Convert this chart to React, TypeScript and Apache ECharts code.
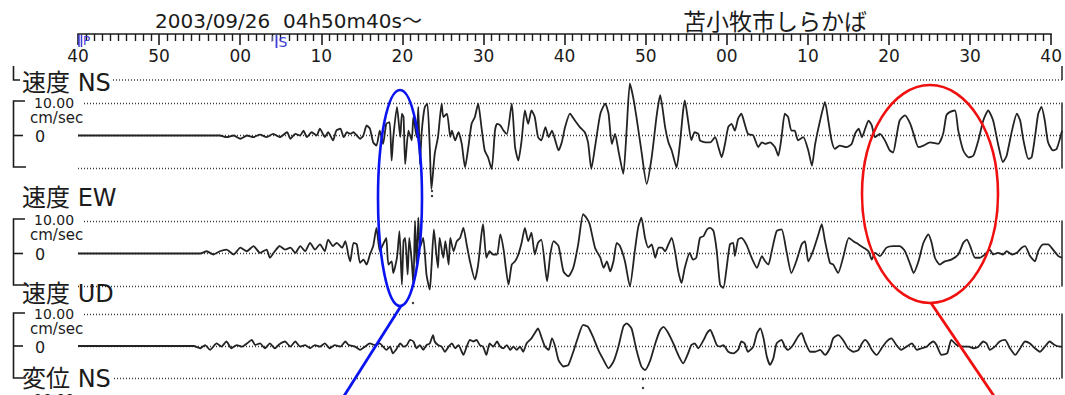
import { useEffect, useRef } from "react";
import * as echarts from "echarts";

// Time axis: seconds after 04h50m40s (0..120 s)
const tickLabels = ["40", "50", "00", "10", "20", "30", "40", "50", "00", "10", "20", "30", "40"];
const channelNames = ["速度 NS", "速度 EW", "速度 UD"];
const nextChannelName = "変位 NS";
const titleLeft = "2003/09/26  04h50m40s〜";
const titleRight = "苫小牧市しらかば";
const scaleLabel = "10.00";
const unitLabel = "cm/sec";

// [time s, velocity cm/s] read from the record
const velocityNS: [number, number][] = [
  [0, 0], [17.3, 0], [18.1, -0.5], [19.0, 0], [19.8, -1.0], [20.6, 0], [21.4, -0.5], [22.2, 0.3], [23.0, -0.5], [23.8, 0.5],
  [24.6, -0.5], [25.5, 1.0], [25.9, -1.0], [26.5, 0.5], [27.1, 0], [27.5, 1.5], [27.9, -0.5], [28.5, 1.0], [29.1, 0], [29.5, 2.1],
  [30.1, -0.5], [30.5, 1.0], [31.1, -1.5], [31.5, 1.5], [32.0, 2.1], [32.4, -0.5], [32.8, 1.0],
  [33.2, 0.5], [33.6, 1.0], [34.0, 0], [34.4, -1.0], [34.8, 0], [35.2, 3.1], [35.6, 2.1], [36.0, -2.1], [36.4, -3.1], [36.8, 1.5],
  [37.2, -2.6], [37.6, 3.6], [38.0, 4.1], [38.25, -7.7], [38.45, -0.5], [38.9, 8.8], [39.3, -0.5], [39.5, 6.7], [39.7, 5.7], [39.9, -8.8],
  [40.3, 1.5], [40.7, -1.5], [40.9, 5.7], [41.3, -0.5], [41.5, 8.8], [41.7, -8.8], [41.9, 0.5], [42.1, 5.7], [42.3, 8.8], [42.6, 9.8],
  [42.9, -3.6], [43.1, -16.5], [43.5, -5.7], [43.9, -0.5], [44.35, 9.8], [44.55, 5.7], [45.0, 6.7], [45.4, -0.5], [45.6, 1.5], [46.0, -1.5],
  [46.4, 1.0], [46.8, -2.6], [47.2, -9.8], [47.6, -3.6], [48.0, 3.6], [48.4, 5.7], [48.8, 9.8], [49.2, 2.6], [49.6, -4.6], [50.0, -6.7],
  [50.45, -10.3], [50.85, 1.5], [51.1, 3.6], [51.5, 3.1], [51.9, 1.5], [52.3, 0.5], [52.9, 9.8], [53.3, -3.6], [53.7, -7.7], [54.1, -1.5],
  [54.5, 7.7], [54.9, 3.6], [55.3, 7.7], [55.7, 5.7], [56.1, -0.5], [56.5, -1.5], [57.0, 2.6], [57.4, -0.5], [57.8, 1.5], [58.2, -1.5],
  [58.6, -4.6], [59.0, -2.1], [59.4, 2.6], [60.0, 6.7], [60.6, 4.6], [61.2, 2.6], [61.8, 1.0], [62.2, -2.1], [62.6, -10.3], [63.05, -3.6],
  [63.7, 6.7], [64.3, 9.8], [64.7, 6.7], [65.1, -2.6], [65.5, 0.5], [65.9, -4.6], [66.5, -11.8], [66.9, 1.5], [67.3, 16.0], [67.7, 11.8],
  [68.1, 5.7], [68.7, -4.6], [69.35, -14.9], [69.96, -6.7], [70.6, 6.7], [71.0, 12.4], [71.6, 2.6], [72.0, -2.1], [72.4, -4.6], [73.0, -9.8],
  [73.4, -2.6], [73.8, 7.7], [74.0, 10.8], [74.4, 4.6], [74.8, -1.5], [75.2, 1.0], [75.65, 0.5],
  [75.85, -1.5], [76.5, -2.1], [77.1, -2.1], [77.7, -0.5], [78.1, -3.6], [78.5, -6.7], [78.9, -2.6], [79.3, 2.6], [79.7, 3.6], [80.1, 1.5],
  [80.5, 5.2], [80.9, 6.7], [81.3, 3.6], [81.7, 0.5], [82.35, 0], [82.96, -3.6], [83.4, -2.1], [83.8, -2.6], [84.4, -2.1], [85.0, -3.6],
  [85.4, -6.2], [85.8, -0.5], [86.2, 6.7], [86.6, 5.7], [87.0, 1.5], [87.4, 1.5], [87.8, -1.5], [88.45, -0.5], [89.06, -4.6], [89.5, -9.3],
  [89.9, -2.6], [90.5, 4.6], [91.1, 10.3], [91.5, 4.6], [91.9, -1.5], [92.3, -4.1], [92.9, -3.1], [93.7, -3.6], [94.35, -2.6], [94.75, 0.5],
  [95.2, 2.1], [95.6, -0.5], [96.0, 2.1], [96.4, 4.6], [96.8, 3.1], [97.2, -0.5], [97.8, 0.5], [98.4, -1.5], [99.0, -4.6], [99.4, -5.2],
  [99.8, -0.5], [100.2, 4.6], [100.85, 6.2], [101.5, 3.6], [101.9, 0.5], [102.5, -3.6], [103.1, -3.1], [103.9, -2.1], [104.9, -2.6], [105.5, 0.5],
  [105.9, 6.2], [106.3, 7.2], [106.95, 7.7], [107.35, 1.5], [107.96, -4.6], [108.6, -6.7], [109.2, -6.2], [109.8, -1.5], [110.4, 4.6], [111.0, 7.7],
  [111.6, 4.6], [112.2, -2.6], [112.8, -8.2], [113.25, -6.2], [113.9, 1.5], [114.5, 6.7], [114.9, 4.6], [115.3, -1.5], [115.9, -7.2], [116.3, -6.7],
  [116.7, -0.5], [117.1, 6.7], [117.5, 8.8], [117.9, 4.6], [118.3, -2.1], [118.9, -4.6], [119.35, -4.1], [119.8, -0.5], [120, 1.5],
];

const velocityEW: [number, number][] = [
  [0, 0], [14.9, 0], [15.7, 0.7], [16.5, -0.3], [17.3, 0.7], [18.1, 1.2], [19.0, -0.3], [19.8, 1.8], [20.6, 0.7], [21.4, 2.3],
  [22.2, 0.2], [23.0, 1.2], [23.4, -1.3], [24.0, 0.7], [24.6, 2.3], [25.25, 1.2], [25.9, 1.8], [26.5, 0.2], [27.1, 2.3], [27.7, 0.7],
  [28.3, 3.3], [28.9, 1.2], [29.5, 2.8], [30.1, 0.7], [30.5, 4.3], [31.1, 2.3], [31.55, 3.3], [32.2, 1.8], [32.6, 3.8], [33.0, -0.8],
  [33.2, -2.4], [33.6, 3.3], [34.0, 2.8], [34.4, -2.9], [34.8, -1.9], [35.2, -3.4], [35.6, -0.3], [36.0, 2.3], [36.4, 7.9], [36.8, 0.7],
  [37.2, 2.8], [37.4, 3.8], [37.6, 4.8], [37.85, -3.4], [38.25, -2.4], [38.45, -6.0], [38.9, -1.3], [39.2, 6.9], [39.5, -9.6], [39.7, 3.8],
  [39.9, 4.8], [40.2, -6.5], [40.4, 4.8], [40.7, -2.4], [40.9, -9.6], [41.1, 10.0], [41.3, -4.4], [41.5, 11.0], [41.7, 1.8], [42.1, 4.8],
  [42.5, -6.5], [42.9, -11.1], [43.1, -4.4], [43.4, 7.4], [43.7, -0.3], [43.9, -4.4], [44.1, 4.8], [44.55, -1.3], [44.8, 3.8], [45.2, -3.4],
  [45.4, 4.8], [45.8, 0.7], [46.2, 3.8], [46.6, 4.8], [47.0, 7.9], [47.4, 2.8], [47.8, -2.4], [48.4, -8.0], [48.8, -3.4], [49.2, 5.9],
  [49.4, 9.0], [49.8, -1.3], [50.2, 0.7], [50.6, -0.3], [51.1, -0.3], [51.5, 5.9], [51.9, 1.2], [52.5, -9.6], [52.9, -3.4], [53.3, -2.4],
  [53.7, -0.3], [54.1, 3.3], [54.5, 7.9], [54.9, 3.8], [55.3, 6.4], [55.7, -0.3], [56.1, 3.3], [56.5, 4.3], [57.2, -8.5], [57.6, -0.3],
  [58.0, 3.8], [58.6, 2.3], [59.2, -5.5], [59.8, -7.0], [60.4, -4.4], [61.0, 2.8], [61.6, 12.1], [62.0, 11.0], [62.4, 9.0], [63.05, 1.8],
  [63.7, -1.3], [64.1, -4.4], [64.5, -2.4], [64.9, -5.5], [65.3, -2.4], [65.7, 3.3], [66.1, 2.3], [66.7, -2.4], [67.3, -10.1], [67.9, 0.7],
  [68.3, 7.9], [68.7, 11.0], [69.15, 4.8], [69.55, 1.8], [69.96, 2.8], [70.4, -1.3], [70.8, 1.8], [71.2, 1.8], [71.6, 0.7], [72.0, 2.8],
  [72.4, 4.8], [72.8, 0.7], [73.2, -5.5], [73.6, -9.1], [74.0, -4.4], [74.6, 0.2], [75.0, -1.9], [75.4, -1.3],
  [75.85, 4.8], [76.3, 5.4], [76.7, 7.4], [77.1, 7.9], [77.5, 6.9], [77.9, 0.7], [78.3, -9.6], [78.7, -10.6], [79.1, -4.4], [79.5, 2.8],
  [79.9, 3.3], [80.1, -0.8], [80.5, 4.3], [80.9, 4.8], [81.5, 2.8], [82.15, -1.3], [82.8, -4.4], [83.4, -0.8], [83.8, -2.4], [84.2, -3.4],
  [84.6, 0.7], [85.2, 6.9], [85.8, 7.4], [86.4, 0.7], [87.0, -6.0], [87.6, -2.4], [88.25, 2.8], [88.65, 3.8], [89.06, -2.4], [89.7, 1.2],
  [90.3, 5.9], [90.7, 9.0], [91.1, 3.8], [91.7, -2.9], [92.1, -3.4], [92.7, -6.0], [93.3, -1.3], [94.0, 4.8], [94.55, 3.8], [95.2, 2.8],
  [95.8, 1.8], [96.4, 0.7], [96.8, -1.9], [97.2, 0.2], [97.8, -0.8], [98.6, 1.8], [99.4, 2.3], [100.2, 2.3], [100.85, 0.7], [101.5, -3.4],
  [101.9, -6.0], [102.5, -2.4], [103.1, 3.3], [103.7, 5.9], [104.1, 3.3], [104.5, -1.3], [105.1, -3.4], [105.7, -2.4], [106.5, -1.9], [107.35, -0.3],
  [107.96, 3.3], [108.4, 4.3], [108.8, 2.3], [109.4, -1.3], [110.0, -1.3], [110.8, 0.2], [111.2, 1.2], [111.6, -0.3], [112.2, 0.2], [112.8, -0.3],
  [113.25, 0.7], [113.9, -0.3], [114.5, 0.2], [115.1, 1.8], [115.5, 2.3], [116.1, -0.8], [116.7, -2.4], [117.1, 0.7], [117.7, 2.8], [118.3, 2.8],
  [118.9, 1.2], [119.55, -0.8], [120, -1.3],
];

const velocityUD: [number, number][] = [
  [0, 0], [14.1, 0], [14.9, -0.7], [15.5, 0.3], [16.1, -1.2], [16.9, 0.8], [17.5, -0.2], [18.1, 1.4], [18.7, -0.7], [19.35, 0.3],
  [20.0, -0.2], [20.6, 0.8], [21.2, 1.9], [21.6, 0.3], [22.2, 0.8], [22.8, -0.7], [23.4, 0.8], [24.0, -0.7], [24.6, 0.6], [25.25, 1.4],
  [25.9, -0.2], [26.5, 1.4], [27.1, -0.2], [27.7, 0.3], [28.3, -0.7], [28.9, 0.3], [29.5, -0.2], [30.1, 0.8], [30.7, -0.7], [31.3, 0.3],
  [32.0, -0.2], [32.6, 1.4], [33.0, 0.3], [33.8, -0.2], [34.4, -1.2], [35.0, -0.2], [35.6, 0.8], [36.2, 0.3], [36.8, 0.8], [37.2, -0.2],
  [37.6, -1.2], [38.05, -0.2], [38.4, -2.3], [38.9, -0.7], [39.3, 0.8], [39.7, -0.2], [40.1, 0.3], [40.5, 1.9], [40.9, 1.4], [41.3, -0.7],
  [41.7, 0.3], [42.1, -1.2], [42.5, 0.3], [42.9, 0.8], [43.3, 3.4], [43.5, 1.4], [43.9, 0.3], [44.35, -0.2], [44.75, -1.8], [45.2, -0.2],
  [45.6, 0.8], [46.0, -0.7], [46.4, 0.3], [46.8, -1.8], [47.0, -2.8], [47.4, -0.2], [47.8, 1.9], [48.2, 1.4], [48.6, 1.9], [49.0, 0.3],
  [49.4, -0.2], [49.8, -2.8], [50.2, 0.8], [50.65, -0.2], [51.1, 1.4], [51.5, -0.2], [51.9, -0.7], [52.3, 0.3], [52.7, -1.2], [53.1, -0.2],
  [53.5, -1.2], [53.9, -0.2], [54.3, -1.8], [54.7, 0.8], [55.3, 2.4], [55.7, 4.0], [56.1, 5.5], [56.5, 2.9], [56.95, -0.2], [57.4, -1.2],
  [57.8, 2.4], [58.2, -0.2], [58.6, -4.4], [59.2, -6.4], [59.8, -5.9], [60.4, -1.8], [61.0, 2.9], [61.6, 6.6], [62.2, 6.0], [62.8, 2.9],
  [63.45, -1.2], [64.1, -4.4], [64.7, -7.0], [65.3, -4.9], [65.9, -0.2], [66.5, 6.0], [66.9, 7.1], [67.5, 5.5], [68.1, -1.2], [68.7, -6.4],
  [69.15, -7.5], [69.8, -4.4], [70.4, 0.8], [71.0, 5.0], [71.4, 6.0], [72.0, 4.0], [72.6, 0.8], [73.2, -2.8], [73.8, -5.4], [74.4, -2.3],
  [74.8, 0.3], [75.2, 0.8], [75.65, -0.7], [76.3, 1.9], [76.7, 4.0], [77.1, 5.0], [77.5, 2.9], [77.9, 0.3], [78.3, -0.2], [78.7, 0.3],
  [79.3, -1.8], [79.9, -2.3], [80.5, -1.2], [80.9, 1.4], [81.3, 0.8], [81.7, -1.8], [82.35, -0.2], [82.8, 4.0], [83.2, 5.5], [83.6, 2.4],
  [84.0, -3.3], [84.4, -5.9], [84.8, -3.8], [85.2, 0.8], [85.8, 1.9], [86.2, -0.2], [86.6, -1.2], [87.2, 0.3], [87.8, 2.9], [88.25, 4.0],
  [88.65, 1.4], [89.3, -1.8], [89.9, -1.8], [90.5, -1.2], [91.1, -2.8], [91.7, -0.7], [92.1, 2.4], [92.7, 3.4], [93.3, 1.9], [93.9, -0.7],
  [94.55, -1.8], [95.2, -1.2], [95.6, 0.8], [96.0, 1.9], [96.4, 0.8], [96.8, -1.2], [97.4, -2.8], [98.0, -0.7], [98.6, 1.4], [99.2, 2.4],
  [99.8, 0.3], [100.4, -1.2], [101.05, -0.2], [101.7, 0.8], [102.3, -1.2], [102.9, -0.7], [103.5, -0.2], [103.9, 0.8], [104.3, 1.4], [104.7, 0.3],
  [105.3, -2.8], [106.0, -2.3], [106.5, 1.9], [107.15, 0.3], [108.0, -0.2], [108.6, -0.2], [109.2, -0.7], [109.8, -0.2], [110.4, 1.4], [110.8, 0.8],
  [111.2, -1.2], [111.8, -0.2], [112.4, 1.4], [113.05, 1.9], [113.65, -0.7], [114.3, -2.8], [114.9, -0.7], [115.5, 1.4], [116.1, 0.8], [116.7, -0.7],
  [117.3, -1.8], [117.9, -0.2], [118.5, 1.4], [119.1, 0.3], [119.8, -0.2], [120, -0.2],
];

const INK = "#1b1b1b";
const LATIN = '"DejaVu Sans", "Noto Sans CJK JP", sans-serif';
const CJK = '"Noto Sans CJK JP", sans-serif';
const PLOT_LEFT = 78;
const PLOT_WIDTH = 984;
const PLOT_RIGHT = PLOT_LEFT + PLOT_WIDTH;

const panels = [
  { name: channelNames[0], data: velocityNS, top: 103, height: 65, labelY: 83, scaleY: 103, unitY: 118, bracketTop: 101, bracketBottom: 167 },
  { name: channelNames[1], data: velocityEW, top: 221, height: 65, labelY: 198, scaleY: 220, unitY: 235, bracketTop: 219, bracketBottom: 285 },
  { name: channelNames[2], data: velocityUD, top: 314, height: 64, labelY: 294, scaleY: 314, unitY: 329, bracketTop: 313, bracketBottom: 378 },
];

function text(x: number, y: number, str: string, font: string, extra: any = {}) {
  return {
    type: "text",
    x,
    y,
    z: 20,
    style: { text: str, font, fill: INK, align: "left", verticalAlign: "middle", ...extra },
  };
}

function buildOption() {
  const grid: any[] = [{ left: PLOT_LEFT, top: 33, width: PLOT_WIDTH, height: 1 }];
  const xAxis: any[] = [
    {
      gridIndex: 0,
      type: "value",
      min: 0,
      max: 120,
      interval: 10,
      position: "bottom",
      axisLine: { show: true, onZero: false, lineStyle: { color: INK, width: 1.7 } },
      axisTick: { show: true, length: 11, lineStyle: { color: INK, width: 1.6 } },
      minorTick: { show: true, splitNumber: 10, length: 7, lineStyle: { color: INK, width: 1.4 } },
      axisLabel: {
        margin: 13,
        fontSize: 17,
        fontFamily: LATIN,
        color: INK,
        showMinLabel: true,
        showMaxLabel: true,
        formatter: (v: number) => tickLabels[Math.round(v / 10)] ?? "",
      },
      splitLine: { show: false },
    },
  ];
  const yAxis: any[] = [{ gridIndex: 0, type: "value", min: 0, max: 1, show: false }];
  const series: any[] = [];
  const graphic: any[] = [];

  panels.forEach((p, i) => {
    const gi = i + 1;
    grid.push({ left: PLOT_LEFT, top: p.top, width: PLOT_WIDTH, height: p.height });
    xAxis.push({ gridIndex: gi, type: "value", min: 0, max: 120, show: false });
    yAxis.push({
      gridIndex: gi,
      type: "value",
      min: -10,
      max: 10,
      interval: 10,
      position: "right",
      axisLine: { show: true, onZero: false, lineStyle: { color: "#333", width: 1.6 } },
      axisTick: { show: false },
      axisLabel: { show: false },
      splitLine: { show: true, lineStyle: { color: "#3a3a3a", type: [1, 2], width: 1.3 } },
    });
    series.push({
      type: "line",
      name: p.name,
      xAxisIndex: gi,
      yAxisIndex: gi,
      data: p.data,
      showSymbol: false,
      symbol: "none",
      smooth: 0.2,
      clip: false,
      silent: true,
      z: 5,
      lineStyle: { color: "#232323", width: 1.8 },
    });

    const zeroY = p.top + p.height / 2;
    // channel label (with white backing to hide the dotted line under it)
    graphic.push({ type: "rect", z: 15, shape: { x: 74, y: p.labelY - 6, width: 38, height: 12 }, style: { fill: "#fff" } });
    graphic.push(text(22, p.labelY, p.name, `24px ${LATIN}`));
    // bracket
    graphic.push({
      type: "polyline",
      z: 20,
      shape: { points: [[25, p.bracketTop], [13.5, p.bracketTop], [13.5, p.bracketBottom], [26, p.bracketBottom]] },
      style: { stroke: INK, lineWidth: 1.6, fill: "none" },
    });
    graphic.push({ type: "line", z: 20, shape: { x1: 13.5, y1: zeroY, x2: 23, y2: zeroY }, style: { stroke: INK, lineWidth: 1.6 } });
    graphic.push({ type: "rect", z: 15, shape: { x: 74, y: p.scaleY - 6, width: 8, height: 12 }, style: { fill: "#fff" } });
    graphic.push(text(34, p.scaleY, scaleLabel, `14px ${LATIN}`));
    graphic.push(text(30, p.unitY, unitLabel, `15px ${LATIN}`, { scaleX: 1.1 }));
    graphic.push(text(35, zeroY + 1, "0", `16px ${LATIN}`));
  });

  // header line row above NS
  graphic.push({ type: "line", z: 10, shape: { x1: 110, y1: 80, x2: PLOT_RIGHT, y2: 80 }, style: { stroke: "#3a3a3a", lineWidth: 1.3, lineDash: [1, 2] } });
  graphic.push({ type: "line", z: 10, shape: { x1: PLOT_RIGHT, y1: 66, x2: PLOT_RIGHT, y2: 80 }, style: { stroke: "#333", lineWidth: 1.6 } });
  graphic.push({ type: "polyline", z: 20, shape: { points: [[13.5, 66], [13.5, 80], [20, 80]] }, style: { stroke: INK, lineWidth: 1.6, fill: "none" } });

  // next channel (cut off at the bottom edge, as in the record)
  graphic.push({ type: "rect", z: 15, shape: { x: 74, y: 373, width: 38, height: 12 }, style: { fill: "#fff" } });
  graphic.push(text(22, 379, nextChannelName, `24px ${LATIN}`));
  graphic.push(text(34, 399, scaleLabel, `14px ${LATIN}`));

  // titles
  graphic.push(text(155, 21, titleLeft, `20px ${LATIN}`));
  graphic.push(text(683, 20, titleRight, `23px ${CJK}`));

  // P and S phase marks
  const BLUE = "#3b3bd6";
  graphic.push({ type: "line", z: 25, shape: { x1: 79, y1: 35, x2: 79, y2: 47 }, style: { stroke: BLUE, lineWidth: 1.5 } });
  graphic.push({ type: "line", z: 25, shape: { x1: 81.5, y1: 35, x2: 81.5, y2: 47 }, style: { stroke: BLUE, lineWidth: 1.5 } });
  graphic.push(text(83, 40.5, "P", `12px ${LATIN}`, { fill: BLUE }));
  graphic.push({ type: "line", z: 25, shape: { x1: 272, y1: 36, x2: 272, y2: 42 }, style: { stroke: "#8a8ad8", lineWidth: 1.2 } });
  graphic.push({ type: "line", z: 25, shape: { x1: 276.5, y1: 35, x2: 276.5, y2: 48 }, style: { stroke: BLUE, lineWidth: 1.8 } });
  graphic.push(text(278.5, 42, "S", `14px ${LATIN}`, { fill: BLUE }));

  // small peak marks
  [[432, 191], [432, 196], [413, 303], [643, 379], [643, 388]].forEach(([cx, cy]) =>
    graphic.push({ type: "circle", z: 25, shape: { cx, cy, r: 1.2 }, style: { fill: "#333" } })
  );

  // highlight ellipses and leader lines
  graphic.push({ type: "ellipse", z: 30, shape: { cx: 400, cy: 198, rx: 22, ry: 108 }, style: { fill: "none", stroke: "#0a14f0", lineWidth: 2.6 } });
  graphic.push({ type: "line", z: 30, shape: { x1: 401, y1: 306, x2: 344, y2: 396 }, style: { stroke: "#0a14f0", lineWidth: 2.8 } });
  graphic.push({ type: "ellipse", z: 30, shape: { cx: 930, cy: 194, rx: 68, ry: 109 }, style: { fill: "none", stroke: "#f01010", lineWidth: 2.6 } });
  graphic.push({ type: "line", z: 30, shape: { x1: 931, y1: 303, x2: 994, y2: 396 }, style: { stroke: "#f01010", lineWidth: 2.8 } });

  return {
    animation: false,
    backgroundColor: "#ffffff",
    grid,
    xAxis,
    yAxis,
    series,
    graphic,
  };
}

export default function App() {
  const ref = useRef<HTMLDivElement>(null);
  useEffect(() => {
    if (!ref.current) return;
    const chart = echarts.init(ref.current, null, { renderer: "svg" });
    chart.setOption(buildOption() as any);
    return () => chart.dispose();
  }, []);
  return (
    <div
      ref={ref}
      style={{ position: "absolute", left: 0, top: 0, width: 1065, height: 395, background: "#fff" }}
    />
  );
}
